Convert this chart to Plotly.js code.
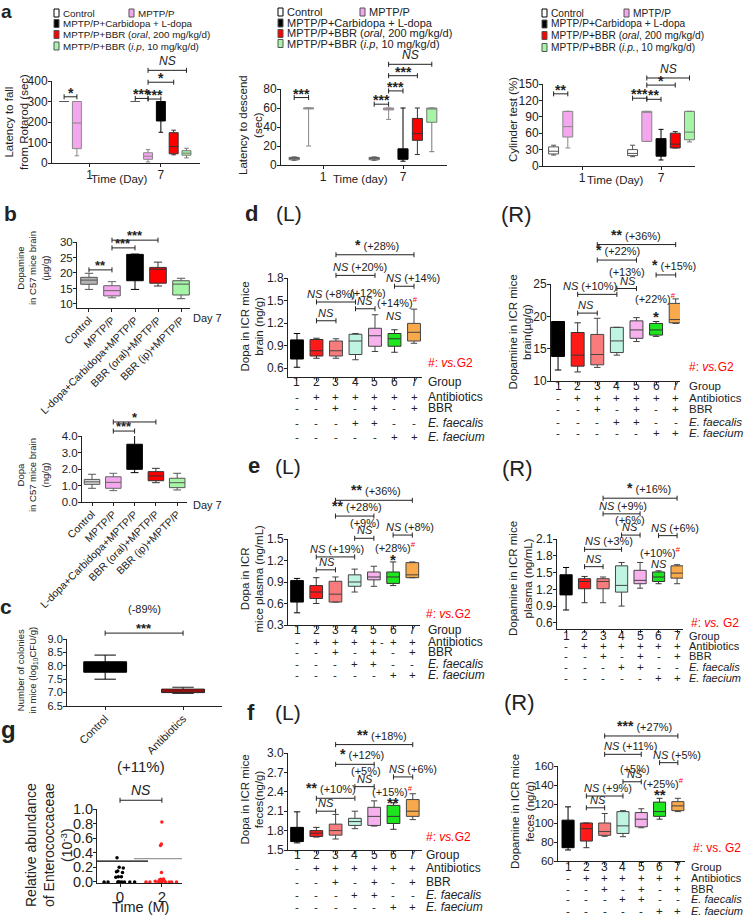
<!DOCTYPE html>
<html><head><meta charset="utf-8">
<script src="https://cdn.plot.ly/plotly-3.0.1.min.js"></script>
<style>html,body{margin:0;padding:0;background:#fff}#chart{width:745px;height:917px}</style>
</head><body><div id="chart"></div>
<script>
// ---------------- DATA ----------------
const aGroupNames = ['Control','MPTP/P','MPTP/P+Carbidopa + L-dopa','MPTP/P+BBR (<i>oral</i>, 200 mg/kg/d)','MPTP/P+BBR (<i>i.p</i>, 10 mg/kg/d)'];
const aGroupNames3 = ['Control','MPTP/P','MPTP/P+Carbidopa + L-dopa','MPTP/P+BBR (<i>oral</i>, 200 mg/kg/d)','MPTP/P+BBR (<i>i.p.</i>, 10 mg/kg/d)'];
const days = ['1','7'];
// five-number summaries [lower whisker, Q1, median, Q3, upper whisker] per group, [day 1, day 7]
const rotarod = [
  [[300,300,300,300,300],[300,300,300,300,300]],
  [[35,70,195,300,300],[5,18,33,50,65]],
  [null,[150,205,300,300,300]],
  [null,[40,45,80,148,160]],
  [null,[25,38,48,60,72]]
];
const descend = [
  [[5,5.5,7,8,8.5],[5,5.5,7,8,8.5]],
  [[20,59,60,60,60],[48,58,60,60,60]],
  [null,[4,6,12,17,60]],
  [null,[11,26,33,49,60]],
  [null,[14,45,60,60,60]]
];
const cylinder = [
  [[20,22,27,35,38],[17,19,23,30,38]],
  [[33,53,72,100,100],[45,45,100,100,100]],
  [null,[11,18,33,50,67]],
  [null,[33,33,40,60,63]],
  [null,[44,48,62,100,100]]
];
// [day index, group A, group B, bracket height, label]
const rotarodSig = [[0,0,1,323,'*'],[1,0,1,315,'***'],[1,1,2,312,'***'],[1,1,3,394,'*'],[1,1,4,452,'NS']];
const descendSig = [[0,0,1,71,'***'],[1,0,1,64,'***'],[1,1,2,78,'***'],[1,1,3,94,'***'],[1,1,4,106,'NS']];
const cylinderSig = [[0,0,1,132,'**'],[1,0,1,124,'***'],[1,1,2,122,'**'],[1,1,3,148,'*'],[1,1,4,161,'NS']];

const bGroups = ['Control','MPTP/P','L-dopa+Carbidopa+MPTP/P','BBR (oral)+MPTP/P','BBR (ip)+MPTP/P'];
const dopamineC57 = [[14.7,16.35,17.7,18.6,19.9],[12.0,12.6,14.3,15.9,17.2],[14.7,17.5,25.7,26.0,26.1],[15.8,16.7,21.2,21.8,23.5],[11.7,12.9,16.4,17.5,18.3]];
const dopaC57 = [[0.83,1.07,1.22,1.37,1.68],[0.69,0.83,1.19,1.53,1.74],[1.78,1.98,1.98,3.5,4.06],[1.17,1.29,1.58,1.84,2.04],[0.73,0.87,1.17,1.44,1.74]];
const dopamineC57Sig = [[0,1,21.0,'**'],[1,2,28.1,'***'],[1,3,30.6,'***']];
const dopaC57Sig = [[1,2,4.3,'***'],[1,3,4.85,'*']];

const cGroups = ['Control','Antibiotics'];
const colonies = [[7.5,7.76,7.95,8.15,8.4],[6.97,7.0,7.06,7.13,7.2]];

const gTimes = ['0','2'];
const abundance0 = [0.33,0.2,0.19,0.15,0.14,0.13,0.07,0.07,0.065,0,0,0,0,0,0,0,0,0];
const abundance2 = [0.82,0.52,0.5,0.13,0.04,0.035,0.03,0.02,0.02,0.015,0.01,0,0,0,0,0,0,0,0,0];
const abundanceLine = [0.285,0.32];

const groupNums = ['1','2','3','4','5','6','7'];
const rowAntibiotics = ['-','+','+','+','+','+','+'];
const rowBBR = ['-','-','+','-','+','-','+'];
const rowFaecalis = ['-','-','-','+','+','-','-'];
const rowFaecium = ['-','-','-','-','-','+','+'];
const rowNames = ['Group','Antibiotics','BBR','<i>E. faecalis</i>','<i>E. faecium</i>'];

const dopaBrain = [[0.61,0.72,0.85,0.975,1.06],[0.73,0.76,0.83,0.98,0.997],[0.73,0.76,0.83,0.96,0.99],[0.71,0.78,0.96,1.05,1.06],[0.82,0.89,1.03,1.13,1.31],[0.81,0.89,0.99,1.06,1.11],[0.93,0.96,1.076,1.195,1.385]];
const dopamineBrain = [[11.7,13.8,18.0,19.2,19.2],[11.4,12.3,14.0,17.5,19.0],[12.1,12.5,14.1,17.2,19.7],[14.0,14.4,16.2,18.3,18.3],[16.1,16.6,17.9,19.3,19.8],[16.9,17.1,17.9,18.9,19.2],[18.9,19.0,19.5,22.0,22.7]];
const dopaPlasma = [[0.47,0.62,0.8,0.92,0.95],[0.6,0.67,0.76,0.85,0.96],[0.62,0.62,0.73,0.91,0.97],[0.76,0.84,0.9,1.0,1.08],[0.84,0.93,0.97,1.04,1.12],[0.85,0.88,0.97,1.04,1.18],[0.96,0.96,1.0,1.17,1.18]];
const dopaminePlasma = [[0.83,1.1,1.3,1.46,1.59],[0.96,1.21,1.34,1.39,1.43],[0.96,1.21,1.34,1.39,1.42],[0.9,1.15,1.27,1.62,1.68],[1.22,1.3,1.36,1.54,1.68],[1.3,1.34,1.42,1.51,1.53],[1.3,1.4,1.49,1.62,1.64]];
const dopaFeces = [[1.61,1.63,1.8,1.85,2.09],[1.7,1.71,1.76,1.8,1.85],[1.67,1.73,1.8,1.9,2.05],[1.83,1.88,1.94,1.99,2.1],[1.87,1.88,2.02,2.16,2.26],[1.82,1.91,2.02,2.19,2.23],[1.97,2.02,2.1,2.28,2.37]];
const dopamineFeces = [[71.6,74,80,103,117],[74,81,94,100,100],[86,87,91,100,110],[85.6,89,97,112,113],[95,96,104,111,115],[104,107,112,122,126],[112,113,118,122.5,126]];

// [group A index, group B index, bracket height, label, label shift in groups]
const dopaBrainSig = [[1,2,1.23,'NS',0],[1,3,1.48,'NS|(+8%)',-0.23],[3,4,1.39,'NS',0],[2,4,1.835,'NS|(+20%)',0.23],[2,6,2.11,'*|(+28%)',0.1],[5,6,1.69,'NS|(+14%)',0.45]];
const dopaBrainNotes = [[3.62,1.6,'(+12%)'],[5.13,1.48,'(+14%)#'],[5,1.29,'NS']];
const dopamineBrainSig = [[1,2,20.5,'NS',-0.07],[1,3,23.4,'NS|(+10%)',-0.35],[3,4,24.3,'NS',0.07],[2,4,28.7,'*|(+22%)',0.07],[2,6,31.1,'**|(+36%)',0],[5,6,26.4,'*|(+15%)',0.4]];
const dopamineBrainNotes = [[3.5,26.9,'(+13%)'],[4.95,22.8,'(+22%)#'],[5,20.5,'*']];
const dopaPlasmaSig = [[1,2,1.07,'NS',0.05],[1,3,1.25,'NS|(+19%)',0.1],[3,4,1.51,'NS',0.04],[2,4,1.82,'**|(+28%)',0.1],[2,6,2.04,'**|(+36%)',0.1],[5,6,1.555,'NS|(+8%)',0.4]];
const dopaPlasmaNotes = [[3.55,1.72,'(+9%)'],[5.1,1.39,'(+28%)#'],[5,1.25,'*']];
const dopaminePlasmaSig = [[1,2,1.605,'NS',0],[1,3,1.915,'NS|(+3%)',0.3],[3,4,2.17,'NS',-0.04],[2,4,2.55,'NS|(+9%)',0.1],[2,6,2.83,'*|(+16%)',0.5],[5,6,2.16,'NS|(+6%)',0.4]];
const dopaminePlasmaNotes = [[3.46,2.44,'(+6%)'],[5.1,1.87,'(+10%)#'],[5,1.65,'NS']];
const dopaFecesSig = [[1,2,2.10,'NS',0],[1,3,2.30,'**|(+10%)',-0.23],[3,4,2.48,'NS',0],[2,4,2.825,'*|(+12%)',0.35],[2,6,3.13,'**|(+18%)',0.4],[5,6,2.63,'NS|(+6%)',0.5]];
const dopaFecesNotes = [[3.57,2.72,'(+5%)'],[4.97,2.41,'(+15%)#'],[5,2.28,'**']];
const dopamineFecesSig = [[1,2,116,'NS',0.15],[1,3,128.4,'NS|(+9%)',0.2],[3,4,143.4,'NS',0.15],[2,4,172.3,'NS|(+11%)',0.4],[2,6,191.6,'***|(+27%)',0.2],[5,6,163.5,'NS|(+5%)',0.45]];
const dopamineFecesNotes = [[3.66,157,'(+5%)'],[5.2,141.7,'(+25%)#'],[5,132.9,'**']];

// ---------------- STYLE / HELPERS ----------------
const FONT = 'Liberation Sans, Arial, Helvetica, sans-serif';
const W = 745, H = 917;
const aColors = ['#ffffff','#f4a7ee','#000000','#ff0000','#a6f5a6'];
const aLines = ['#555555','#888888','#000000','#333333','#777777'];
const groupColors = ['#000000','#ff1a1a','#f87c7c','#bff4e2','#f7b2ee','#1ee61e','#f8a94c'];
const groupLines = ['#000000','#333333','#444444','#444444','#444444','#333333','#444444'];
const INK = '#222222';
const SLOT = 0.18;

const layout = {
  width: W, height: H, margin: {l:0,r:0,t:0,b:0}, showlegend: false,
  paper_bgcolor: '#ffffff', plot_bgcolor: 'rgba(0,0,0,0)',
  font: {family: FONT, size: 11, color: INK},
  boxmode: 'group', boxgap: 0.1, boxgroupgap: 0.3,
  shapes: [], annotations: []
};
const traces = [];
let nAx = 0;
function axisBase(fs) {
  return {showline:true, linecolor:INK, linewidth:1, ticks:'outside', ticklen:3, tickwidth:1, tickcolor:INK,
          ticklabelstandoff:-2, showgrid:false, zeroline:false, fixedrange:true,
          tickfont:{size:fs, color:INK, family:FONT}};
}
function addPanel(o) {
  nAx++;
  const s = nAx === 1 ? '' : String(nAx);
  const xa = 'x' + s, ya = 'y' + s;
  layout['xaxis' + s] = Object.assign(axisBase(o.xfs || 12), {
    domain:[o.px[0]/W, o.px[1]/W], anchor: ya, type:'category', categoryorder:'array',
    categoryarray:o.cats, range:o.xr}, o.xextra || {});
  layout['yaxis' + s] = Object.assign(axisBase(o.yfs || 12), {
    domain:[1 - o.py[1]/H, 1 - o.py[0]/H], anchor: xa, range:o.yr}, o.yextra || {});
  const P = {xa, ya, hpx: o.py[1] - o.py[0]};
  P.xd = i => (i - o.xr[0]) / (o.xr[1] - o.xr[0]);
  P.yd = v => (v - o.yr[0]) / (o.yr[1] - o.yr[0]);
  return P;
}
function note(P, i, v, text, o) {
  o = o || {};
  layout.annotations.push({xref:P.xa + ' domain', yref:P.ya + ' domain', x:P.xd(i), y:P.yd(v), text,
    showarrow:false, xanchor:o.xanchor || 'center', yanchor:o.yanchor || 'middle', yshift:o.yshift || 0,
    borderpad:0, font:{size:o.size || 11, color:o.color || INK, family:FONT}});
}
function ptext(x, y, text, o) {
  o = o || {};
  layout.annotations.push({xref:'paper', yref:'paper', x:x / W, y:1 - y / H, text, showarrow:false,
    xanchor:o.xanchor || 'center', yanchor:o.yanchor || 'middle', textangle:o.angle || 0, borderpad:0,
    align:o.align || 'center', font:{size:o.size || 12, color:o.color || INK, family:FONT}});
}
function fmtLabel(lbl, starSize, pctSize) {
  return lbl.split('|').map(part => {
    if (part === 'NS') return '<i>NS</i>';
    if (/^\*+$/.test(part)) return '<span style="font-size:' + starSize + 'px"><b>' + part + '</b></span>';
    return '<span style="font-size:' + pctSize + 'px">' + part.replace('#', '<sup><span style="color:#ff0000">#</span></sup>') + '</span>';
  }).join(' ');
}
function bracket(P, i0, i1, v, label, o) {
  o = o || {};
  const xr = P.xa + ' domain', yr = P.ya + ' domain';
  const y = P.yd(v), c = 2.5 / P.hpx, x0 = P.xd(i0), x1 = P.xd(i1);
  const ln = {color: INK, width: 1};
  layout.shapes.push({type:'line', xref:xr, yref:yr, x0:x0, x1:x1, y0:y, y1:y, line:ln});
  layout.shapes.push({type:'line', xref:xr, yref:yr, x0:x0, x1:x0, y0:y - c, y1:y + c, line:ln});
  layout.shapes.push({type:'line', xref:xr, yref:yr, x0:x1, x1:x1, y0:y - c, y1:y + c, line:ln});
  if (label) {
    const starOnly = /^\*+$/.test(label);
    note(P, (i0 + i1) / 2 + (o.dx || 0), v, fmtLabel(label, o.star || 14, o.pct || 11),
         {yanchor:'bottom', yshift: starOnly ? (o.starShift || -4) : 1, size: o.size || 11});
  }
}
function boxStats(P, name, xs, stats, fill, line, extra) {
  traces.push(Object.assign({
    type:'box', name: name, xaxis:P.xa, yaxis:P.ya, x: xs,
    lowerfence: stats.map(s => s[0]), q1: stats.map(s => s[1]), median: stats.map(s => s[2]),
    q3: stats.map(s => s[3]), upperfence: stats.map(s => s[4]),
    fillcolor: fill, line:{color: line, width: 1}, whiskerwidth: 0.5, boxpoints: false, hoverinfo:'skip'
  }, extra || {}));
}

// ---------------- PANEL a ----------------
function panelA(P, series, sig, names, legendPos, legendSize) {
  series.forEach((g, gi) => {
    const xs = [], st = [];
    g.forEach((s, di) => { if (s) { xs.push(days[di]); st.push(s); } });
    boxStats(P, names[gi], xs, st, aColors[gi], aLines[gi], {offsetgroup: String(gi), alignmentgroup: 'a'});
  });
  sig.forEach(b => {
    const x0 = b[0] + (b[1] - 2) * SLOT, x1 = b[0] + (b[2] - 2) * SLOT;
    bracket(P, x0, x1, b[3], b[4], {star: 14, starShift: -5, size: 12});
  });
  names.forEach((nm, gi) => {
    const p = legendPos[gi];
    layout.shapes.push({type:'rect', xref:'paper', yref:'paper', x0:p[0] / W, x1:(p[0] + 5) / W,
      y0:1 - (p[1] + 4) / H, y1:1 - (p[1] - 4) / H, fillcolor:aColors[gi],
      line:{color: gi === 0 ? '#000' : '#555', width: 1}});
    ptext(p[0] + 8, p[1], nm, {xanchor:'left', size: legendSize});
  });
}
const Pa1 = addPanel({px:[52,200], py:[81,163], cats:days, xr:[-0.53,1.55], yr:[0,400],
  yextra:{dtick:100, tick0:0}});
panelA(Pa1, rotarod, rotarodSig, aGroupNames, [[54,13],[129,13],[54,23.5],[54,34.5],[54,46]], 9.8);
const Pa2 = addPanel({px:[281,447], py:[89,165], cats:days, xr:[-0.525,1.55], yr:[0,80],
  yextra:{dtick:20, tick0:0}});
panelA(Pa2, descend, descendSig, aGroupNames, [[278,12],[360,12],[278,23],[278,33.5],[278,43.5]], 11);
const Pa3 = addPanel({px:[543,695], py:[84,166], cats:days, xr:[-0.494,1.43], yr:[0,150],
  yextra:{dtick:30, tick0:0}});
panelA(Pa3, cylinder, cylinderSig, aGroupNames3, [[542,13],[624,13],[542,24],[542,35.5],[542,47.5]], 10.2);
ptext(16, 122, 'Latency to fall<br>from Rotarod (sec)', {angle:-90, size:11.5});
ptext(250, 125, 'Latency to descend<br>(sec)', {angle:-90, size:11.5});
ptext(513, 120, 'Cylinder test (%)', {angle:-90, size:11.5});
ptext(120, 179, 'Time (Day)', {size:11.5});
ptext(360, 179, 'Time (day)', {size:11.5});
ptext(615, 180, 'Time (Day)', {size:11.5});
ptext(7, 0, '<b>a</b>', {size:19, yanchor:'top'});

// ---------------- PANEL b ----------------
const bColors1 = ['#b3b3b3','#f4a7ee','#000000','#ff0000','#a6f5a6'];
const bColors2 = ['#d9d9d9','#f4a7ee','#000000','#ff0000','#a6f5a6'];
const bLines = ['#555555','#666666','#000000','#333333','#555555'];
const Pb1 = addPanel({px:[77,190], py:[242,308], cats:bGroups, xr:[-0.52,4.39], yr:[8.7,30],
  xfs:10.5, yfs:11.5, xextra:{tickangle:-45}, yextra:{tick0:10, dtick:5}});
bGroups.forEach((g, i) => boxStats(Pb1, g, [g], [dopamineC57[i]], bColors1[i], bLines[i], {width:0.72}));
dopamineC57Sig.forEach(b => bracket(Pb1, b[0], b[1], b[2], b[3], {star:13, starShift:-4}));
const Pb2 = addPanel({px:[82,187], py:[436,502], cats:bGroups, xr:[-0.47,4.46], yr:[0,4],
  xfs:10.5, yfs:11.5, xextra:{tickangle:-45}, yextra:{tick0:0, dtick:1, tickformat:'.1f'}});
bGroups.forEach((g, i) => boxStats(Pb2, g, [g], [dopaC57[i]], bColors2[i], bLines[i], {width:0.73}));
dopaC57Sig.forEach(b => bracket(Pb2, b[0], b[1], b[2], b[3], {star:13, starShift:-4}));
ptext(192, 318, 'Day 7', {xanchor:'left', size:11});
ptext(192, 505, 'Day 7', {xanchor:'left', size:11});
ptext(33, 268, 'Dopamine<br>in C57 mice brain<br>(µg/g)', {angle:-90, size:9.5});
ptext(33, 475, 'Dopa<br>in C57 mice brain<br>(ng/g)', {angle:-90, size:9.5});
ptext(10, 213, '<b>b</b>', {size:21});

// ---------------- PANEL c ----------------
const Pc = addPanel({px:[67,222], py:[639,706], cats:cGroups, xr:[-0.49,1.5], yr:[6.5,9.0],
  xfs:11, yfs:11, xextra:{tickangle:-45}, yextra:{tick0:6.5, dtick:0.5, tickformat:'.1f'}});
boxStats(Pc, cGroups[0], [cGroups[0]], [colonies[0]], '#000000', '#000000', {width:0.55});
boxStats(Pc, cGroups[1], [cGroups[1]], [colonies[1]], '#ff0000', '#222222', {width:0.55});
bracket(Pc, 0, 1, 9.22, '***', {star:13, starShift:-4});
note(Pc, 0.5, 10.12, '(-89%)', {size:11});
ptext(26.5, 670, 'Number of colonies<br>in mice (log<sub>10</sub>CFU/g)', {angle:-90, size:9.5});
ptext(6, 606, '<b>c</b>', {size:21});

// ---------------- PANEL g ----------------
const Pg = addPanel({px:[97,182], py:[809,883], cats:gTimes, xr:[-0.55,1.48], yr:[-0.015,1.0],
  xfs:15, yfs:14.5, xextra:{ticklabelstandoff:-3}, yextra:{tick0:0, dtick:0.2, tickformat:'.1f', ticklabelstandoff:-3}});
[abundance0, abundance2].forEach((vals, i) => {
  traces.push({type:'box', xaxis:Pg.xa, yaxis:Pg.ya, x: vals.map(() => gTimes[i]), y: vals,
    boxpoints:'all', jitter:1, pointpos:0, width:0.9, fillcolor:'rgba(0,0,0,0)',
    line:{width:0, color:'rgba(0,0,0,0)'}, marker:{size:3.5, color: i === 0 ? '#000000' : '#ff2020'},
    hoverinfo:'skip'});
});
traces.push({type:'scatter', mode:'markers', xaxis:Pg.xa, yaxis:Pg.ya, x:gTimes, y:abundanceLine,
  marker:{symbol:'line-ew', size:40, line:{width:1.3, color:['#000000','#9a9a9a']}}, hoverinfo:'skip'});
bracket(Pg, 0, 1, 1.12, 'NS', {size:14});
note(Pg, 0.5, 1.58, '(+11%)', {size:15});
ptext(140, 907, 'Time (M)', {size:14.5});
ptext(49, 845, 'Relative abundance<br>of Enterococcaceae<br>(10<sup>-3</sup>)', {angle:-90, size:14});
ptext(8, 729, '<b>g</b>', {size:24});

// ---------------- PANELS d-f ----------------
function panelG(cfg) {
  const P = addPanel({px:cfg.px, py:cfg.py, cats:groupNums, xr:cfg.xr, yr:cfg.yr, xfs:12, yfs:cfg.yfs || 12,
    xextra:{showticklabels:false}, yextra:cfg.yaxis});
  groupNums.forEach((g, i) => boxStats(P, 'G' + g, [g], [cfg.data[i]], groupColors[i], groupLines[i], {width:0.66}));
  cfg.sig.forEach(b => bracket(P, b[0], b[1], b[2], b[3], {star:14, pct:11, starShift:-4, dx:b[4]}));
  cfg.notes.forEach(n => {
    const isStar = /^\*+$/.test(n[2]);
    note(P, n[0], n[1], fmtLabel(n[2], 15, 11), {yshift: isStar ? -3 : 0});
  });
  const rows = [groupNums, rowAntibiotics, rowBBR, rowFaecalis, rowFaecium];
  rows.forEach((row, r) => {
    row.forEach((t, i) => layout.annotations.push({xref:P.xa + ' domain', yref:'paper', x:P.xd(i),
      y:1 - cfg.rowsY[r] / H, text:t, showarrow:false, xanchor:'center', yanchor:'middle', borderpad:0,
      font:{size: r === 0 ? 12 : 11.5, color:INK, family:FONT}}));
    ptext(cfg.rowX, cfg.rowsY[r], rowNames[r], {xanchor:'left', size:cfg.rowSize || 12});
  });
  ptext(cfg.vsPos[0], cfg.vsPos[1], cfg.vsText, {xanchor:'left', color:'#ff0000', size:12});
  ptext(cfg.titlePos[0], cfg.titlePos[1], cfg.title, {angle:-90, size:11.5});
  return P;
}
panelG({px:[288,422], py:[278,377], xr:[-0.46,6.41], yr:[0.48,1.8], yaxis:{tick0:0.6, dtick:0.3, tickformat:'.1f'},
  data:dopaBrain, sig:dopaBrainSig, notes:dopaBrainNotes, rowX:427, rowsY:[382,397,408,423,437],
  vsPos:[427,363], vsText:'#: <i>vs.</i>G2', titlePos:[251.5,326], title:'Dopa in ICR mice<br>brain (ng/g)'});
panelG({px:[551,680], py:[284,381], xr:[-0.36,6.22], yr:[10,25], yaxis:{tick0:10, dtick:5},
  data:dopamineBrain, sig:dopamineBrainSig, notes:dopamineBrainNotes, rowX:688, rowsY:[386,398,409,422,433],
  rowSize:11.5, vsPos:[688,367], vsText:'#: <i>vs.</i>G2', titlePos:[519.5,332], title:'Dopamine in ICR mice<br>brain(µg/g)'});
panelG({px:[288,420], py:[539,625], xr:[-0.47,6.4], yr:[0.3,1.5], yaxis:{tick0:0.3, dtick:0.3, tickformat:'.1f'},
  data:dopaPlasma, sig:dopaPlasmaSig, notes:dopaPlasmaNotes, rowX:427, rowsY:[630,642,652,664,675],
  vsPos:[425,614], vsText:'#: <i>vs.</i>G2', titlePos:[251.5,578], title:'Dopa in ICR<br>mice plasma (ng/mL)'});
panelG({px:[557,683], py:[539,629], xr:[-0.49,6.32], yr:[0.49,2.1], yaxis:{tick0:0.6, dtick:0.3, tickformat:'.1f'},
  data:dopaminePlasma, sig:dopaminePlasmaSig, notes:dopaminePlasmaNotes, rowX:688, rowsY:[636,646,656,667,678],
  rowSize:11, vsPos:[690,623], vsText:'#: <i>vs.</i> G2', titlePos:[520,579], title:'Dopamine in ICR mice<br>plasma (ng/mL)'});
panelG({px:[288,422], py:[753,850], xr:[-0.47,6.48], yr:[1.5,3.0], yaxis:{tick0:1.5, dtick:0.3, tickformat:'.1f'},
  data:dopaFeces, sig:dopaFecesSig, notes:dopaFecesNotes, rowX:425, rowsY:[855,868,882,895,907],
  vsPos:[425,837], vsText:'#: <i>vs.</i>G2', titlePos:[251.5,799], title:'Dopa in ICR mice<br>feces(ng/g)'});
panelG({px:[558,685], py:[766,861], xr:[-0.55,6.39], yr:[60,160], yaxis:{tick0:60, dtick:20}, yfs:11.5,
  data:dopamineFeces, sig:dopamineFecesSig, notes:dopamineFecesNotes, rowX:690, rowsY:[867,878,889,899,911],
  rowSize:11, vsPos:[692,848], vsText:'#: vs. G2', titlePos:[522,812], title:'Dopamine in ICR mice<br>feces (ng/g)'});
ptext(382, 642, '-', {size:11});

ptext(251, 213, '<b>d</b>', {size:22});
ptext(289, 213, '(L)', {size:21});
ptext(516, 214, '(R)', {size:22});
ptext(254, 465, '<b>e</b>', {size:22});
ptext(288, 466, '(L)', {size:21});
ptext(517, 468, '(R)', {size:22});
ptext(251, 712, '<b>f</b>', {size:22});
ptext(288, 712, '(L)', {size:21});
ptext(519, 702, '(R)', {size:22});

Plotly.newPlot('chart', traces, layout, {staticPlot:true, displayModeBar:false});
</script></body></html>
